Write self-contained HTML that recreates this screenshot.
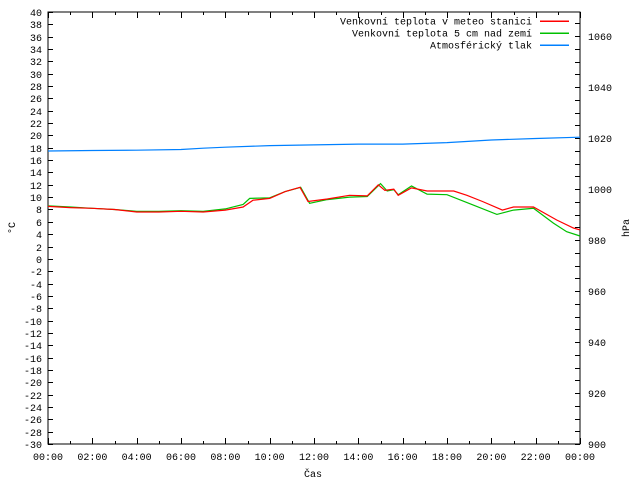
<!DOCTYPE html>
<html><head><meta charset="utf-8"><style>
html,body{margin:0;padding:0;background:#fff;}
svg{display:block;font-family:"Liberation Mono",monospace;font-size:10px;}
</style></head><body>
<svg id="c" width="640" height="480" xmlns="http://www.w3.org/2000/svg"></svg>
<script>
const hoursRed = [0,1,2,3,4,5,6,7,8,8.8,9.25,10,10.7,11.37,11.73,12.6,13.6,14.4,14.9,15.2,15.6,15.8,16.4,17.1,18.3,18.9,19.6,20.5,21,21.9,22.95,23.7,24];
const tempRed = [8.5,8.3,8.2,8.0,7.6,7.6,7.7,7.6,7.9,8.4,9.5,9.8,10.9,11.6,9.3,9.7,10.3,10.2,12.0,11.1,11.3,10.3,11.5,11.0,11.0,10.3,9.3,7.9,8.4,8.4,6.3,5.0,4.7];
const hoursGreen = [0,1,2,3,4,5,6,7,8,8.8,9.1,10,10.7,11.4,11.8,12.6,13.6,14.4,15,15.3,15.6,15.8,16.4,17.1,18,19.2,20.25,21,21.9,22.8,23.4,24];
const tempGreen = [8.6,8.4,8.2,8.0,7.7,7.7,7.8,7.7,8.1,8.8,9.8,9.9,10.9,11.6,9.0,9.6,10.0,10.1,12.2,11.0,11.2,10.4,11.8,10.5,10.4,8.7,7.2,7.9,8.2,5.8,4.4,3.7];
const hoursP = [0,2,4,6,7,8,10,12,14,16,18,20,22,24];
const pressure = [1014.9,1015.1,1015.2,1015.5,1016,1016.4,1017,1017.3,1017.6,1017.6,1018.2,1019.2,1019.8,1020.3];
const xLabels = ["00:00","02:00","04:00","06:00","08:00","10:00","12:00","14:00","16:00","18:00","20:00","22:00","00:00"];
const legendNames = ["Venkovní teplota v meteo stanici","Venkovní teplota 5 cm nad zemí","Atmosférický tlak"];
const legendColors = ["#ff0000","#00c000","#0080ff"];

const svg = document.getElementById('c');
const NS = "http://www.w3.org/2000/svg";
const L=48,R=580,T=12,B=444;
const xs = h => L + (R-L)*h/24;
const yT = v => T + (40-v)*(B-T)/70;
const yP = p => B - (p-900)*(B-36)/160;
function mk(tag, attrs, parent){
  const e=document.createElementNS(NS,tag);
  for(const k in attrs) e.setAttribute(k,attrs[k]);
  (parent||svg).appendChild(e); return e;
}
function txt(x,y,s,anchor,name){
  const t=mk('text',{x:x,y:y,'text-anchor':anchor,fill:'#000'});
  
  
  t.textContent=s; return t;
}
const fr=mk('rect',{x:L,y:T,width:R-L,height:B-T,fill:'none',stroke:'#000','stroke-width':1,'shape-rendering':'crispEdges'});


for(let v=-30;v<=40;v+=2){
  const y=Math.round(yT(v))+0.5;
  const tk=mk('path',{d:`M${L},${y}h5`,stroke:'#000','shape-rendering':'crispEdges'});
  
  
  txt(42,y+3.5,String(v),'end','y-tick-label');
}
for(let p=900;p<=1065;p+=5){
  const y=Math.round(yP(p))+0.5;
  const tk=mk('path',{d:`M${R},${y}h-5`,stroke:'#000','shape-rendering':'crispEdges'});
  
  
  if(p%20===0) txt(588,y+3.5,String(p),'start','y2-tick-label');
}
for(let h=0;h<=24;h++){
  const x=Math.round(xs(h))+0.5, len=h%2===0?6:3;
  const tk=mk('path',{d:`M${x},${B}v-${len}M${x},${T}v${len}`,stroke:'#000','shape-rendering':'crispEdges'});
  
  
}
xLabels.forEach((s,i)=>txt(xs(i*2),460,s,'middle','x-tick-label'));
txt(313,477,"Čas",'middle','x-axis-title');
const yt=txt(0,0,"°C",'middle','y-axis-title'); yt.setAttribute('transform','translate(15,228) rotate(-90)');
const y2=txt(0,0,"hPa",'middle','y2-axis-title'); y2.setAttribute('transform','translate(629,228) rotate(-90)');
function line(hs,vs,fy,color,name){
  const d=hs.map((h,i)=>(i?'L':'M')+xs(h).toFixed(1)+','+fy(vs[i]).toFixed(1)).join('');
  const p=mk('path',{d:d,fill:'none',stroke:color,'stroke-width':1.2});
  
  
}
line(hoursP,pressure,yP,legendColors[2],'pressure-line');
line(hoursGreen,tempGreen,yT,legendColors[1],'ground-temp-line');
line(hoursRed,tempRed,yT,legendColors[0],'station-temp-line');
legendNames.forEach((n,i)=>{
  const y=21+i*12;
  txt(532,y+3.5,n,'end','legend-label');
  const l=mk('path',{d:`M540,${y}h29`,stroke:legendColors[i],'stroke-width':1.5,'shape-rendering':'crispEdges'});
  
  
});
</script>
</body></html>
